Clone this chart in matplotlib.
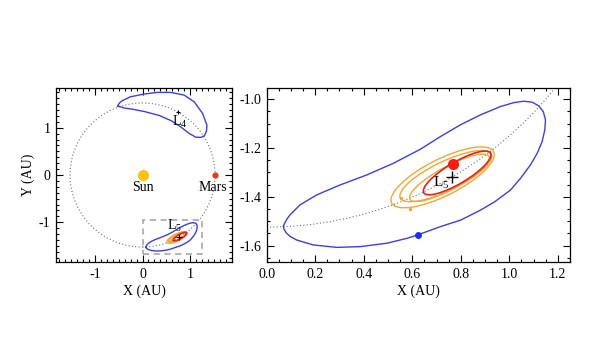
import matplotlib
matplotlib.use("Agg")
import matplotlib.pyplot as plt
from matplotlib.patches import Ellipse, Circle, Rectangle
from matplotlib.ticker import MultipleLocator, FormatStrFormatter

plt.rcParams['font.family'] = ['Liberation Serif', 'DejaVu Serif']
plt.rcParams['mathtext.fontset'] = 'custom'
plt.rcParams['mathtext.rm'] = 'Liberation Serif'
plt.rcParams['axes.unicode_minus'] = False

# ---- data ----
mars_orbit_r = 1.524
sun_xy = (0.0, 0.0)
mars_xy = (1.524, 0.0)
l4_xy = (0.745, 1.325)
l5_xy = (0.762, -1.320)

# L5 tadpole orbit (blue)
l5_tad_x = [0.069, 0.075, 0.084, 0.096, 0.137, 0.206, 0.303, 0.413, 0.523, 0.633, 0.716, 0.798,
            0.881, 0.963, 1.018, 1.059, 1.094, 1.121, 1.140, 1.149, 1.146, 1.135, 1.115,
            1.087, 1.046, 1.005, 0.940, 0.880, 0.800, 0.716, 0.622, 0.578, 0.495, 0.385,
            0.289, 0.192, 0.124, 0.096, 0.080, 0.071, 0.069]
l5_tad_y = [-1.519, -1.506, -1.490, -1.474, -1.433, -1.392, -1.351, -1.310, -1.262, -1.205, -1.153, -1.105,
            -1.064, -1.030, -1.014, -1.008, -1.012, -1.027, -1.051, -1.085, -1.126, -1.174, -1.221,
            -1.269, -1.324, -1.372, -1.420, -1.455, -1.495, -1.522, -1.556, -1.570, -1.590, -1.604,
            -1.607, -1.597, -1.577, -1.562, -1.547, -1.532, -1.519]

# L4 tadpole orbit (blue)
l4_tad_x = [-0.522, -0.505, -0.480, -0.429, -0.254, 0.028, 0.310, 0.592, 0.873, 1.085, 1.262, 1.353,
            1.345, 1.300, 1.226, 1.120, 0.980, 0.800, 0.600, 0.350, 0.050, -0.200, -0.400, -0.522]
l4_tad_y = [1.459, 1.495, 1.530, 1.571, 1.655, 1.712, 1.748, 1.748, 1.691, 1.550, 1.304, 1.057,
            0.930, 0.830, 0.796, 0.800, 0.880, 1.020, 1.150, 1.260, 1.340, 1.390, 1.420, 1.459]

# orange loops near L5 (center x, center y, full length, full width, tilt deg)
orange_cx = [0.725, 0.738, 0.753]
orange_cy = [-1.320, -1.315, -1.322]
orange_len = [0.470, 0.416, 0.369]
orange_wid = [0.150, 0.120, 0.095]
orange_ang = [26.6, 25.6, 28.3]
orange_dot_x = [0.553, 0.592]
orange_dot_y = [-1.405, -1.451]

# red loop near L5
red_cx, red_cy, red_len, red_wid, red_ang = 0.785, -1.302, 0.320, 0.088, 30.5
red_dot = (0.768, -1.266)
blue_dot = (0.622, -1.556)

# zoom box
box_x0, box_y0, box_x1, box_y1 = 0.0, -1.665, 1.25, -0.955

left_xticks = [-1, 0, 1]
left_yticks = [-1, 0, 1]
right_xticks = [0.0, 0.2, 0.4, 0.6, 0.8, 1.0, 1.2]
right_yticks = [-1.6, -1.4, -1.2, -1.0]

BLUE = '#3c3cf0'
ORANGE = '#f4a532'
RED = '#e8201a'
GREY = '#707070'

fig = plt.figure(figsize=(6, 3.5), dpi=100)
axL = fig.add_axes([0.0933, 0.2514, 0.2933, 0.4971])
axR = fig.add_axes([0.4445, 0.2514, 0.5055, 0.4971])


def style(ax, minor):
    ax.tick_params(which='both', direction='in', top=True, right=True, labelsize=10, width=0.8)
    ax.tick_params(which='major', length=5, pad=4)
    ax.tick_params(which='minor', length=2.5)
    ax.xaxis.set_minor_locator(MultipleLocator(minor))
    ax.yaxis.set_minor_locator(MultipleLocator(minor))
    for s in ax.spines.values():
        s.set_linewidth(0.9)


def draw_loops(ax, lw):
    for cx, cy, L, W, a in zip(orange_cx, orange_cy, orange_len, orange_wid, orange_ang):
        ax.add_patch(Ellipse((cx, cy), L, W, angle=a, fill=False, ec=ORANGE, lw=lw))
    ax.add_patch(Ellipse((red_cx, red_cy), red_len, red_wid, angle=red_ang, fill=False, ec=RED, lw=lw * 1.2))


# ---------- left panel ----------
axL.add_patch(Circle(sun_xy, mars_orbit_r, fill=False, ec=GREY, lw=0.8, ls=(0, (1, 2))))
axL.plot(l4_tad_x, l4_tad_y, color=BLUE, lw=1.0)
axL.plot(l5_tad_x, l5_tad_y, color=BLUE, lw=1.0)
draw_loops(axL, 1.0)
axL.plot(*sun_xy, 'o', color='#ffc20e', ms=8, mec='none')
axL.plot(*mars_xy, 'o', color='#ee3a1c', ms=4.5, mec='none')
axL.plot(*l4_xy, marker='+', color='k', ms=3, mew=0.8)
axL.plot(*l5_xy, marker='+', color='k', ms=4, mew=0.8)
axL.add_patch(Rectangle((box_x0, box_y0), box_x1 - box_x0, box_y1 - box_y0, fill=False,
                        ec='#a0a0a0', lw=1.1, ls=(0, (4, 3))))
axL.text(0.0, -0.27, 'Sun', ha='center', va='center', fontsize=10)
axL.text(1.47, -0.27, 'Mars', ha='center', va='center', fontsize=10)
axL.text(0.78, 1.13, r'L$_\mathregular{4}$', ha='center', va='center', fontsize=10)
axL.text(0.68, -1.07, r'L$_\mathregular{5}$', ha='center', va='center', fontsize=10)
axL.set_xlim(-1.82, 1.88)
axL.set_ylim(-1.84, 1.84)
axL.set_xticks(left_xticks)
axL.set_yticks(left_yticks)
style(axL, 0.125)
axL.set_xlabel('X (AU)', fontsize=10, labelpad=3)
axL.set_ylabel('Y (AU)', fontsize=10, labelpad=3)

# ---------- right panel ----------
axR.add_patch(Circle(sun_xy, mars_orbit_r, fill=False, ec=GREY, lw=0.8, ls=(0, (1, 2))))
axR.plot(l5_tad_x, l5_tad_y, color=BLUE, lw=1.0)
draw_loops(axR, 1.0)
axR.plot(orange_dot_x, orange_dot_y, 'o', color=ORANGE, ms=2.5, mec='none')
axR.plot(*red_dot, 'o', color='#ff1a0a', ms=8, mec='none')
axR.plot(*blue_dot, 'o', color='#1a2cff', ms=5, mec='none')
axR.plot(*l5_xy, marker='+', color='k', ms=9, mew=1.0)
axR.text(0.718, -1.343, r'L$_\mathregular{5}$', ha='center', va='center', fontsize=11)
axR.set_xlim(0.0, 1.25)
axR.set_ylim(-1.667, -0.954)
axR.set_xticks(right_xticks)
axR.set_yticks(right_yticks)
axR.xaxis.set_major_formatter(FormatStrFormatter('%.1f'))
axR.yaxis.set_major_formatter(FormatStrFormatter('%.1f'))
style(axR, 0.05)
axR.set_xlabel('X (AU)', fontsize=10, labelpad=3)

fig.savefig('out.png', dpi=100)
